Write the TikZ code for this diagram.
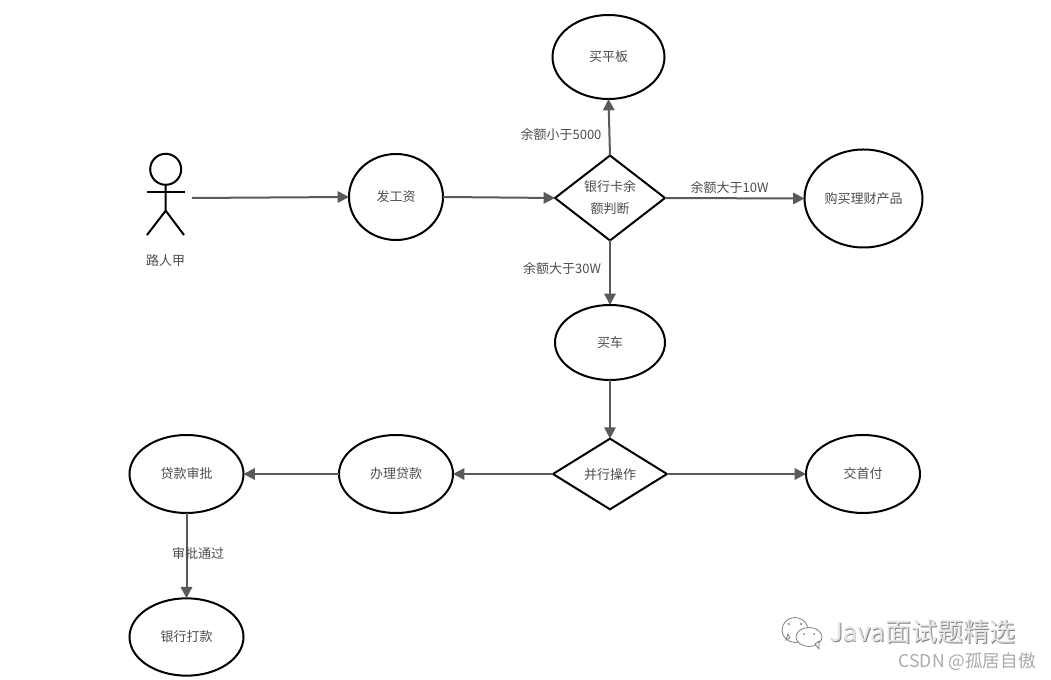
\documentclass[tikz,border=0pt]{standalone}
\usepackage{fontspec}
\setmainfont{Noto Sans CJK SC}
\usetikzlibrary{shapes.geometric,arrows.meta}
\definecolor{inkt}{HTML}{4D4D4D}
\definecolor{linkc}{HTML}{5A5A5A}
\definecolor{wm}{HTML}{808080}
\definecolor{wmb}{HTML}{ABABAB}
\newcommand\lowr[1]{\raisebox{-0.6pt}{#1}}
\tikzset{
  txt/.style={font=\fontsize{9.75pt}{14.6pt}\selectfont,text=inkt,align=center,inner sep=0pt},
  oval/.style={ellipse,draw=black,line width=1.5pt,fill=white,inner sep=0pt,outer sep=0pt,font=\fontsize{9.75pt}{14.6pt}\selectfont,text=inkt,align=center},
  dia/.style={diamond,draw=black,line width=1.5pt,fill=white,inner sep=0pt,outer sep=0pt,font=\fontsize{9.75pt}{20pt}\selectfont,text=inkt,align=center},
  link/.style={draw=linkc,line width=1.5pt,-{Triangle[length=8.5pt,width=8.5pt]}},
  stick/.style={draw=black,line width=1.5pt},
  bubble/.style={draw=wm,line width=0.6pt,fill=white}
}
\begin{document}
\begin{tikzpicture}[x=0.75pt,y=-0.75pt]
\useasboundingbox (0,0) rectangle (1051,680);
\fill[white] (0,0) rectangle (1051,680);
% actor
\draw[stick] (165.7,169.3) circle[radius=15.5*0.75pt];
\draw[stick] (165.7,184.8) -- (165.7,210.7) -- (147,235);
\draw[stick] (165.7,210.7) -- (184,235);
\draw[stick] (147,191.7) -- (184.5,191.7);
\coordinate (actor) at (192,198);
\node[txt] (lActor) at (165.7,261) {路人甲};
% nodes
\node[oval,minimum width=84pt,minimum height=63pt] (ban) at (608.5,57) {\lowr{买平板}};
\node[oval,minimum width=70.5pt,minimum height=64.5pt] (gz) at (396,197) {\lowr{发工资}};
\node[oval,minimum width=88.5pt,minimum height=73.5pt] (lc) at (863.5,198.5) {\lowr{购买理财产品}};
\node[oval,minimum width=82.5pt,minimum height=56.25pt] (car) at (610,342.5) {\lowr{买车}};
\node[oval,minimum width=85.5pt,minimum height=58.5pt] (sf) at (863,474) {\lowr{交首付}};
\node[oval,minimum width=85.5pt,minimum height=58.5pt] (dk) at (396,474) {\lowr{办理贷款}};
\node[oval,minimum width=85.5pt,minimum height=58.5pt] (sp) at (186.5,474) {\lowr{贷款审批}};
\node[oval,minimum width=85.5pt,minimum height=58pt] (dkk) at (186.5,637) {\lowr{银行打款}};
\node[dia,minimum width=82.5pt,minimum height=63.75pt,aspect=1.3] (bank) at (610,198) {};
\node[txt,font=\fontsize{9.75pt}{16.5pt}\selectfont] (lBank) at (610,197.5) {银行卡余\\额判断};
\node[dia,minimum width=85.5pt,minimum height=53pt,aspect=1.6] (par) at (610,474) {};
\node[txt] (lPar) at (610,474.5) {并行操作};
% connectors
\draw[link] (actor) -- (gz.west);
\draw[link] (gz.east) -- (bank.west);
\draw[link] (bank.north) -- (ban.south);
\draw[link] (bank.east) -- (lc.west);
\draw[link] (bank.south) -- (car.north);
\draw[link] (car.south) -- (par.north);
\draw[link] (par.west) -- (dk.east);
\draw[link] (par.east) -- (sf.west);
\draw[link] (dk.west) -- (sp.east);
\draw[link] (sp.south) -- (dkk.north);
% edge labels
\node[txt] (e1) at (561,134.5) {余额小于5000};
\node[txt] (e2) at (729.5,187.5) {余额大于10W};
\node[txt] (e3) at (562,269) {余额大于30W};
\node[txt] (e4) at (198,554) {审批通过};
% watermark
\path[bubble] (795,630) ellipse[x radius=13,y radius=12.5];
\path[bubble] (790,638) -- (786,640) -- (788,634) -- cycle;
\fill[wm] (789,624) circle[radius=1.1] (801,624) circle[radius=1.1];
\path[bubble] (809,637) ellipse[x radius=13,y radius=9.5];
\path[bubble] (815,644) -- (819,649) -- (819,641) -- cycle;
\fill[wm] (804,634) circle[radius=1] (814,634) circle[radius=1];
\node[inner sep=0pt,anchor=west,font=\fontsize{19.5pt}{22pt}\selectfont] (wm1) at (829,632)
  {\rlap{\kern0.6pt\raisebox{-0.6pt}{\color{wm}Java面试题精选}}\color{white!90!black}Java面试题精选};
\node[inner sep=0pt,anchor=east,text=wmb,font=\fontsize{13.2pt}{16pt}\selectfont] (wm2) at (1036,661.5) {CSDN @孤居自傲};
\end{tikzpicture}
\end{document}
